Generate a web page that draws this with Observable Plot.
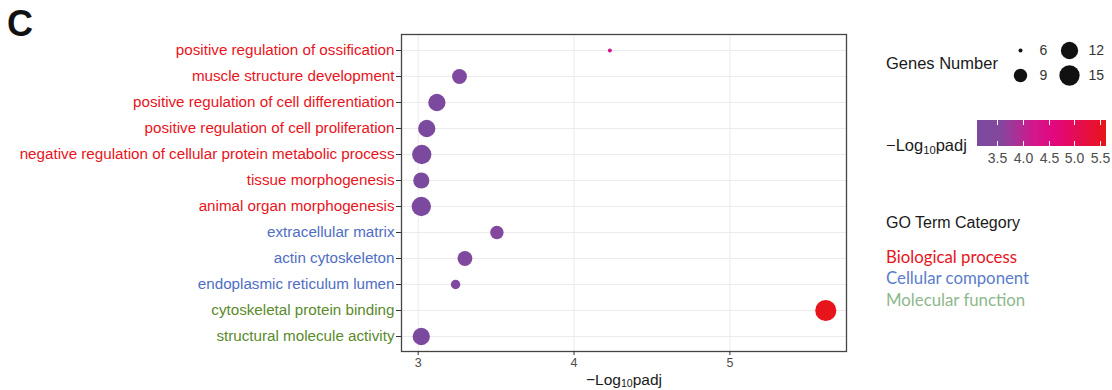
<!DOCTYPE html>
<html><head><meta charset="utf-8">
<script src="https://cdn.jsdelivr.net/npm/d3@7"></script>
<script src="https://cdn.jsdelivr.net/npm/@observablehq/plot@0.6"></script>
<style>
body{margin:0;background:#fff;}
#wrap{position:relative;width:1112px;height:390px;font-family:"Liberation Sans",Arial,sans-serif;overflow:hidden;background:#fff;}
.abs{position:absolute;white-space:nowrap;line-height:1;}
#xtitle{position:absolute;left:0;top:370px;width:1112px;height:20px;}
#xtitle span{position:absolute;left:624px;top:10px;transform:translate(-50%,-50%);font-size:15.5px;color:#1a1a1a;white-space:nowrap;}
sub{font-size:0.68em;vertical-align:-0.25em;}
</style></head><body><div id="wrap"></div>
<script>
// ---------- data ----------
const terms = [
  "positive regulation of ossification",
  "muscle structure development",
  "positive regulation of cell differentiation",
  "positive regulation of cell proliferation",
  "negative regulation of cellular protein metabolic process",
  "tissue morphogenesis",
  "animal organ morphogenesis",
  "extracellular matrix",
  "actin cytoskeleton",
  "endoplasmic reticulum lumen",
  "cytoskeletal protein binding",
  "structural molecule activity"
];
const termCategory = ["BP","BP","BP","BP","BP","BP","BP","CC","CC","CC","MF","MF"];
const negLog10Padj = [4.23, 3.265, 3.12, 3.055, 3.023, 3.02, 3.02, 3.505, 3.30, 3.24, 5.615, 3.02];
const geneCounts   = [6, 10, 12, 12, 14, 11, 14, 9, 10, 7, 16, 12];

const categoryKeys   = ["BP","CC","MF"];
const categoryNames  = ["Biological process","Cellular component","Molecular function"];
const labelColors    = ["#E8141C","#4F6EC4","#5A8A2C"];
const legendColors   = ["#E8141C","#5B7DCB","#8DB88D"];
const xTicks     = [3, 4, 5];
const sizeBreaks = [6, 9, 12, 15];
const colorTicks = [3.5, 4.0, 4.5, 5.0, 5.5];
const colorStops = ["#7B4A9E", "#84479E", "#D5168C", "#E2077E", "#E8141C"];
const colorStopAt = [0, 0.18, 0.45, 0.6, 1];

// ---------- build ----------
const rows = terms.map((t, i) => ({term: t, cat: termCategory[i], x: negLog10Padj[i], genes: geneCounts[i]}));
const font = '"Liberation Sans", Arial, sans-serif';
const rScale = {type: "pow", exponent: 0.5, domain: [0, 9], range: [2, 10.13]};
const ramp = d3.scaleLinear().domain(colorStopAt).range(colorStops).interpolate(d3.interpolateRgb).clamp(true);
const colorScale = {type: "linear", domain: [3.1, 5.62], interpolate: t => ramp(t), clamp: true};

const wrap = document.getElementById("wrap");

const chart = Plot.plot({
  width: 1112, height: 370,
  marginTop: 34, marginBottom: 19, marginLeft: 401, marginRight: 266,
  style: {fontFamily: font, fontSize: "15px", background: "transparent", overflow: "visible"},
  x: {domain: [2.893, 5.748]},
  y: {type: "point", domain: terms, padding: 0.596},
  r: rScale,
  color: colorScale,
  marks: [
    Plot.gridX(xTicks, {stroke: "#EBEBEB", strokeOpacity: 1, strokeWidth: 1}),
    Plot.gridY(terms, {stroke: "#EBEBEB", strokeOpacity: 1, strokeWidth: 1}),
    Plot.dot(rows, {x: "x", y: "term", r: d => d.genes - 6, fill: "x"}),
    Plot.frame({stroke: "#444", strokeWidth: 1.3}),
    ...categoryKeys.map((k, ci) => Plot.axisY({
      ticks: terms.filter((t, i) => termCategory[i] === k),
      tickSize: 5, tickPadding: 2, fill: labelColors[ci], stroke: "#333",
      fontSize: 15.2, label: null
    })),
    Plot.axisX({ticks: xTicks, tickFormat: d => String(d), tickSize: 4, tickPadding: 3, fill: "#4d4d4d", stroke: "#333", fontSize: 12.5, label: null})
  ]
});
chart.style.position = "absolute"; chart.style.left = "0px"; chart.style.top = "0px";
wrap.appendChild(chart);

// x-axis title
const xt = document.createElement("div");
xt.id = "xtitle";
xt.innerHTML = '<span>\u2212Log<sub>10</sub>padj</span>';
wrap.appendChild(xt);

function addText(html, left, cy, size, color, family, weight) {
  const d = document.createElement("div");
  d.className = "abs";
  d.innerHTML = html;
  d.style.left = left + "px";
  d.style.top = (cy - size / 2) + "px";
  d.style.fontSize = size + "px";
  d.style.color = color;
  d.style.height = size + "px";
  if (family) d.style.fontFamily = family;
  if (weight) d.style.fontWeight = weight;
  wrap.appendChild(d);
}
// panel letter
addText("C", 7, 24, 36, "#111", font, "bold");

// size legend
addText("Genes Number", 886, 63, 16.5, "#1a1a1a");
const sizeLeg = Plot.plot({
  width: 112, height: 52, margin: 0,
  style: {fontFamily: font, background: "transparent", overflow: "visible"},
  x: {type: "point", domain: [0, 1], range: [20, 69], padding: 0, axis: null},
  y: {type: "point", domain: [0, 1], range: [13.3, 39], padding: 0, axis: null},
  r: rScale,
  marks: [
    Plot.dot(sizeBreaks, {x: (d, i) => Math.floor(i / 2), y: (d, i) => i % 2, r: d => d - 6, fill: "#111"}),
    Plot.text(sizeBreaks, {x: (d, i) => Math.floor(i / 2), y: (d, i) => i % 2, text: d => String(d), dx: 19, textAnchor: "start", fontSize: 14, fill: "#333"})
  ]
});
sizeLeg.style.position = "absolute"; sizeLeg.style.left = "1000px"; sizeLeg.style.top = "36px";
wrap.appendChild(sizeLeg);

// color legend
addText("\u2212Log<sub>10</sub>padj", 886, 145, 16.5, "#1a1a1a");
const colorLeg = Plot.legend({
  color: colorScale,
  width: 129, height: 48, marginTop: 2, marginBottom: 20, marginLeft: 0, marginRight: 0,
  ticks: colorTicks, tickSize: 0, tickFormat: d3.format(".1f"), label: null,
  style: {fontFamily: font, fontSize: "14px", color: "#4d4d4d", background: "transparent", overflow: "visible"}
});
colorLeg.style.position = "absolute"; colorLeg.style.left = "977px"; colorLeg.style.top = "118px";
wrap.appendChild(colorLeg);
const svgLeg = colorLeg.tagName.toLowerCase() === "svg" ? colorLeg : colorLeg.querySelector("svg");
d3.select(svgLeg).selectAll(".tick").each(function() {
  const g = d3.select(this);
  g.select("line").attr("y1", -26).attr("y2", -21).attr("stroke", "white").attr("stroke-width", 1);
  g.append("line").attr("y1", -5).attr("y2", 0).attr("stroke", "white").attr("stroke-width", 1);
  g.select("text").attr("y", 7);
});

// GO category legend
addText("GO Term Category", 886, 223, 16, "#1a1a1a");
categoryNames.forEach((n, i) => addText(n, 886, 257 + i * 21.5, 16.8, legendColors[i], "Lato, 'Open Sans', sans-serif"));
</script></body></html>
